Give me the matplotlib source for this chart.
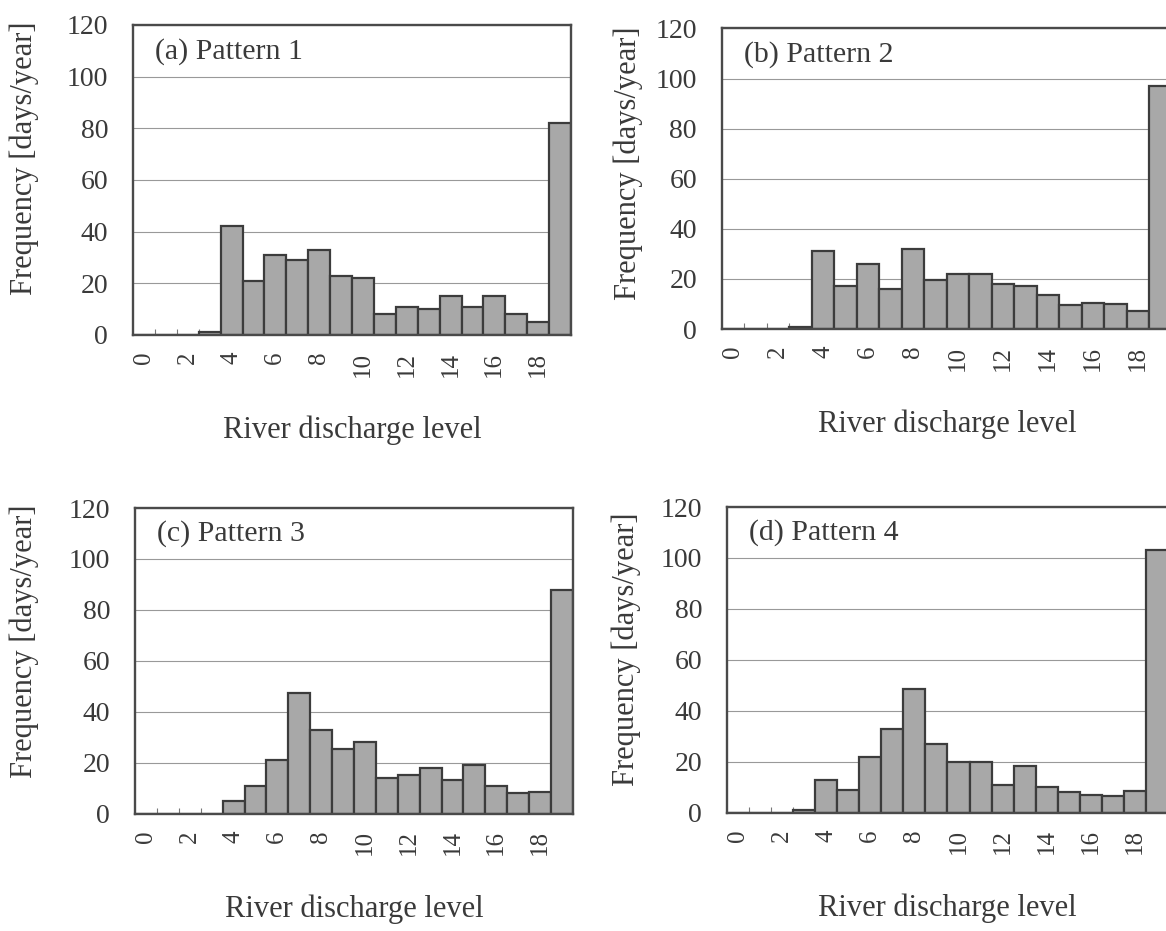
import matplotlib
matplotlib.use('Agg')
import matplotlib.pyplot as plt


levels = list(range(20))
tick_levels = list(range(0, 20, 2))

pattern_1 = [0, 0, 0, 1, 42, 21, 31, 29, 33, 23, 22, 8, 11, 10, 15, 11, 15, 8, 5, 82]
pattern_2 = [0, 0, 0, 1, 31, 17, 26, 16, 32, 19.5, 22, 22, 18, 17, 13.5, 9.5, 10.5, 10, 7, 97]
pattern_3 = [0, 0, 0, 0, 5, 11, 21, 47.5, 33, 25.5, 28, 14, 15, 18, 13, 19, 11, 8, 8.5, 88]
pattern_4 = [0, 0, 0, 1, 13, 9, 22, 33, 48.5, 27, 20, 20, 11, 18.5, 10, 8, 7, 6.5, 8.5, 103]

titles = ['(a) Pattern 1', '(b) Pattern 2', '(c) Pattern 3', '(d) Pattern 4']

TEXT = '#3a3a3a'


def draw_panel(fig, rect, values, title, ylab_pad, ylab_y):
    ax = fig.add_axes(rect)
    ax.bar(levels, values, width=1.0, color='#a8a8a8', edgecolor='#3c3c3c',
           linewidth=1.6, zorder=2)
    ax.set_xlim(-0.5, 19.5)
    ax.set_ylim(0, 120)
    ax.set_yticks(range(0, 121, 20))
    ax.yaxis.grid(True, color='#999999', linewidth=0.8, zorder=0)
    ax.set_axisbelow(True)

    ax.set_xticks(tick_levels)
    ax.set_xticklabels([str(t) for t in tick_levels], rotation=90)
    ax.set_xticks([x + 0.5 for x in range(19)], minor=True)
    ax.tick_params(axis='x', which='major', length=0, pad=12,
                   labelsize=18, labelcolor=TEXT)
    ax.tick_params(axis='x', which='minor', direction='in', length=4,
                   width=0.8, color='#777777')
    ax.tick_params(axis='y', length=0, pad=18, labelsize=20, labelcolor=TEXT)

    for s in ax.spines.values():
        s.set_color('#4a4a4a')
        s.set_linewidth(1.7)
        s.set_zorder(3)

    ax.set_xlabel('River discharge level', fontsize=22, color=TEXT, labelpad=28)
    ax.set_ylabel('Frequency [days/year]', fontsize=22, color=TEXT,
                  labelpad=ylab_pad)
    ax.yaxis.label.set_y(ylab_y)
    ax.text(0.05, 0.915, title, transform=ax.transAxes, fontsize=21.5,
            color=TEXT, va='center', ha='left')
    return ax


def draw_graph():
    plt.rcParams['font.family'] = ['Liberation Serif', 'DejaVu Serif']
    fig = plt.figure(figsize=(11.66, 9.31), dpi=100)

    rects = [
        [0.1141, 0.6402, 0.3756, 0.3330],
        [0.6192, 0.6466, 0.3859, 0.3228],
        [0.1158, 0.1262, 0.3756, 0.3281],
        [0.6235, 0.1271, 0.3782, 0.3283],
    ]
    ylab_pads = [20, 9, 21, 14]
    ylab_ys = [0.57, 0.55, 0.565, 0.535]
    data = [pattern_1, pattern_2, pattern_3, pattern_4]
    for rect, values, title, pad, ly in zip(rects, data, titles, ylab_pads, ylab_ys):
        draw_panel(fig, rect, values, title, pad, ly)

    fig.savefig('out.png', dpi=100, facecolor='white')


if __name__ == '__main__':
    draw_graph()
